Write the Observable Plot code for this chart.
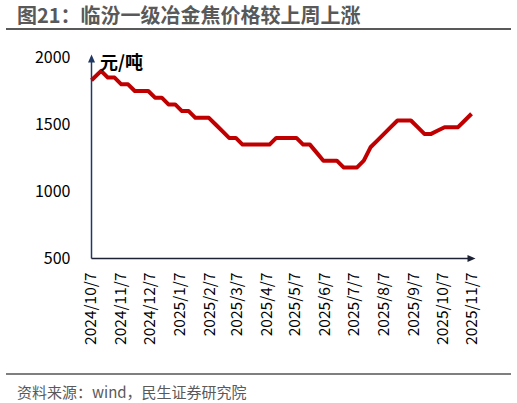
<!DOCTYPE html>
<html><head><meta charset="utf-8">
<script src="https://cdn.jsdelivr.net/npm/d3@7"></script>
<script src="https://cdn.jsdelivr.net/npm/@observablehq/plot@0.6"></script>
<style>
html,body{margin:0;padding:0;background:#fff;}
#wrap{position:relative;width:517px;height:403px;overflow:hidden;font-family:"Noto Sans CJK SC","Noto Sans",sans-serif;}
#title{position:absolute;left:17px;top:1px;font-size:20px;font-weight:bold;color:#595959;line-height:28px;white-space:nowrap;}
#rule1{position:absolute;left:6px;top:28px;width:505px;height:2px;background:#595959;}
#unit{position:absolute;left:100px;top:50px;font-size:18px;font-weight:bold;color:#000;line-height:22px;white-space:nowrap;z-index:2;}
#chart{position:absolute;left:0;top:40px;}
#rule2{position:absolute;left:6px;top:373px;width:505px;height:2px;background:#7f7f7f;}
#source{position:absolute;left:17px;top:381px;font-size:15px;color:#595959;line-height:21px;white-space:nowrap;}
</style></head>
<body>
<div id="wrap">
  <div id="title">图21：临汾一级冶金焦价格较上周上涨</div>
  <div id="rule1"></div>
  <div id="chart"></div>
  <div id="unit">元/吨</div>
  <div id="rule2"></div>
  <div id="source">资料来源：wind，民生证券研究院</div>
</div>
<script>
const dates = [
  "2024-10-07","2024-10-17","2024-10-24","2024-10-31","2024-11-07","2024-11-14","2024-11-21","2024-11-28",
  "2024-12-05","2024-12-12","2024-12-19","2024-12-26","2025-01-02","2025-01-09","2025-01-16","2025-01-23",
  "2025-01-30","2025-02-06","2025-02-13","2025-02-20","2025-02-27","2025-03-06","2025-03-13","2025-03-20",
  "2025-03-27","2025-04-03","2025-04-10","2025-04-17","2025-04-24","2025-05-01","2025-05-08","2025-05-15",
  "2025-05-22","2025-05-29","2025-06-05","2025-06-12","2025-06-19","2025-06-26","2025-07-03","2025-07-10",
  "2025-07-17","2025-07-24","2025-07-31","2025-08-07","2025-08-14","2025-08-21","2025-08-28","2025-09-04",
  "2025-09-11","2025-09-18","2025-09-25","2025-10-02","2025-10-09","2025-10-16","2025-10-23","2025-10-30",
  "2025-11-06"
];
const prices = [
  1830,1900,1850,1850,1800,1800,1750,1750,
  1750,1700,1700,1650,1650,1600,1600,1550,
  1550,1550,1500,1450,1400,1400,1350,1350,
  1350,1350,1350,1400,1400,1400,1400,1350,
  1350,1290,1230,1230,1230,1180,1180,1180,
  1230,1330,1380,1430,1480,1530,1530,1530,
  1480,1430,1430,1455,1480,1480,1480,1530,
  1580
];
const yTicks = [500, 1000, 1500, 2000];
const xTicks = [
  "2024-10-07","2024-11-07","2024-12-07","2025-01-07","2025-02-07","2025-03-07","2025-04-07",
  "2025-05-07","2025-06-07","2025-07-07","2025-08-07","2025-09-07","2025-10-07","2025-11-07"
];
const xDomain = ["2024-10-07", "2025-11-07"];
const yDomain = [500, 2000];

const data = dates.map((d, i) => ({date: new Date(d), price: prices[i]}));
const fmt = d => `${d.getUTCFullYear()}/${d.getUTCMonth() + 1}/${d.getUTCDate()}`;
const x0 = new Date(xDomain[0]), x1 = new Date(xDomain[1]);

const plot = Plot.plot({
  width: 517, height: 330,
  marginLeft: 91, marginRight: 45, marginTop: 17, marginBottom: 112,
  style: {fontFamily: '"Noto Sans CJK SC","Noto Sans",sans-serif', fontSize: "15px", color: "#000", background: "transparent"},
  x: {type: "utc", domain: [x0, x1]},
  y: {domain: yDomain},
  marks: [
    Plot.line(data, {x: "date", y: "price", stroke: "#C00000", strokeWidth: 4, strokeLinejoin: "round", strokeLinecap: "butt"}),
    Plot.link([{x1: x0, x2: x0, y1: yDomain[0], y2: yDomain[1]}], {x1: "x1", x2: "x2", y1: "y1", y2: "y2", stroke: "#203864", strokeWidth: 1.5}),
    Plot.link([{x1: x0, x2: x1, y1: yDomain[0], y2: yDomain[0]}], {x1: "x1", x2: "x2", y1: "y1", y2: "y2", stroke: "#1c2233", strokeWidth: 1.5}),
    Plot.axisY({ticks: yTicks, tickSize: 0, tickPadding: 21, tickFormat: d => String(d), label: null, fontSize: 16}),
    Plot.axisX({ticks: xTicks.map(d => new Date(d)), tickSize: 0, tickPadding: 14, tickRotate: -90, tickFormat: fmt, label: null, fontSize: 15.5})
  ]
});

// filled arrowheads on the axis lines
const ns = "http://www.w3.org/2000/svg";
const defs = document.createElementNS(ns, "defs");
function mk(id, color) {
  const m = document.createElementNS(ns, "marker");
  m.setAttribute("id", id);
  m.setAttribute("viewBox", "-1 -4 10 8");
  m.setAttribute("markerUnits", "userSpaceOnUse");
  m.setAttribute("markerWidth", "10");
  m.setAttribute("markerHeight", "8");
  m.setAttribute("refX", "5");
  m.setAttribute("refY", "0");
  m.setAttribute("orient", "auto");
  const p = document.createElementNS(ns, "path");
  p.setAttribute("d", "M0,-3.5L8,0L0,3.5Z");
  p.setAttribute("fill", color);
  m.appendChild(p);
  defs.appendChild(m);
}
mk("ahY", "#203864");
mk("ahX", "#1c2233");
plot.insertBefore(defs, plot.firstChild);
const links = plot.querySelectorAll('g[aria-label="link"] path');
if (links[0]) links[0].setAttribute("marker-end", "url(#ahY)");
if (links[1]) links[1].setAttribute("marker-end", "url(#ahX)");

document.getElementById("chart").appendChild(plot);
</script>
</body></html>
